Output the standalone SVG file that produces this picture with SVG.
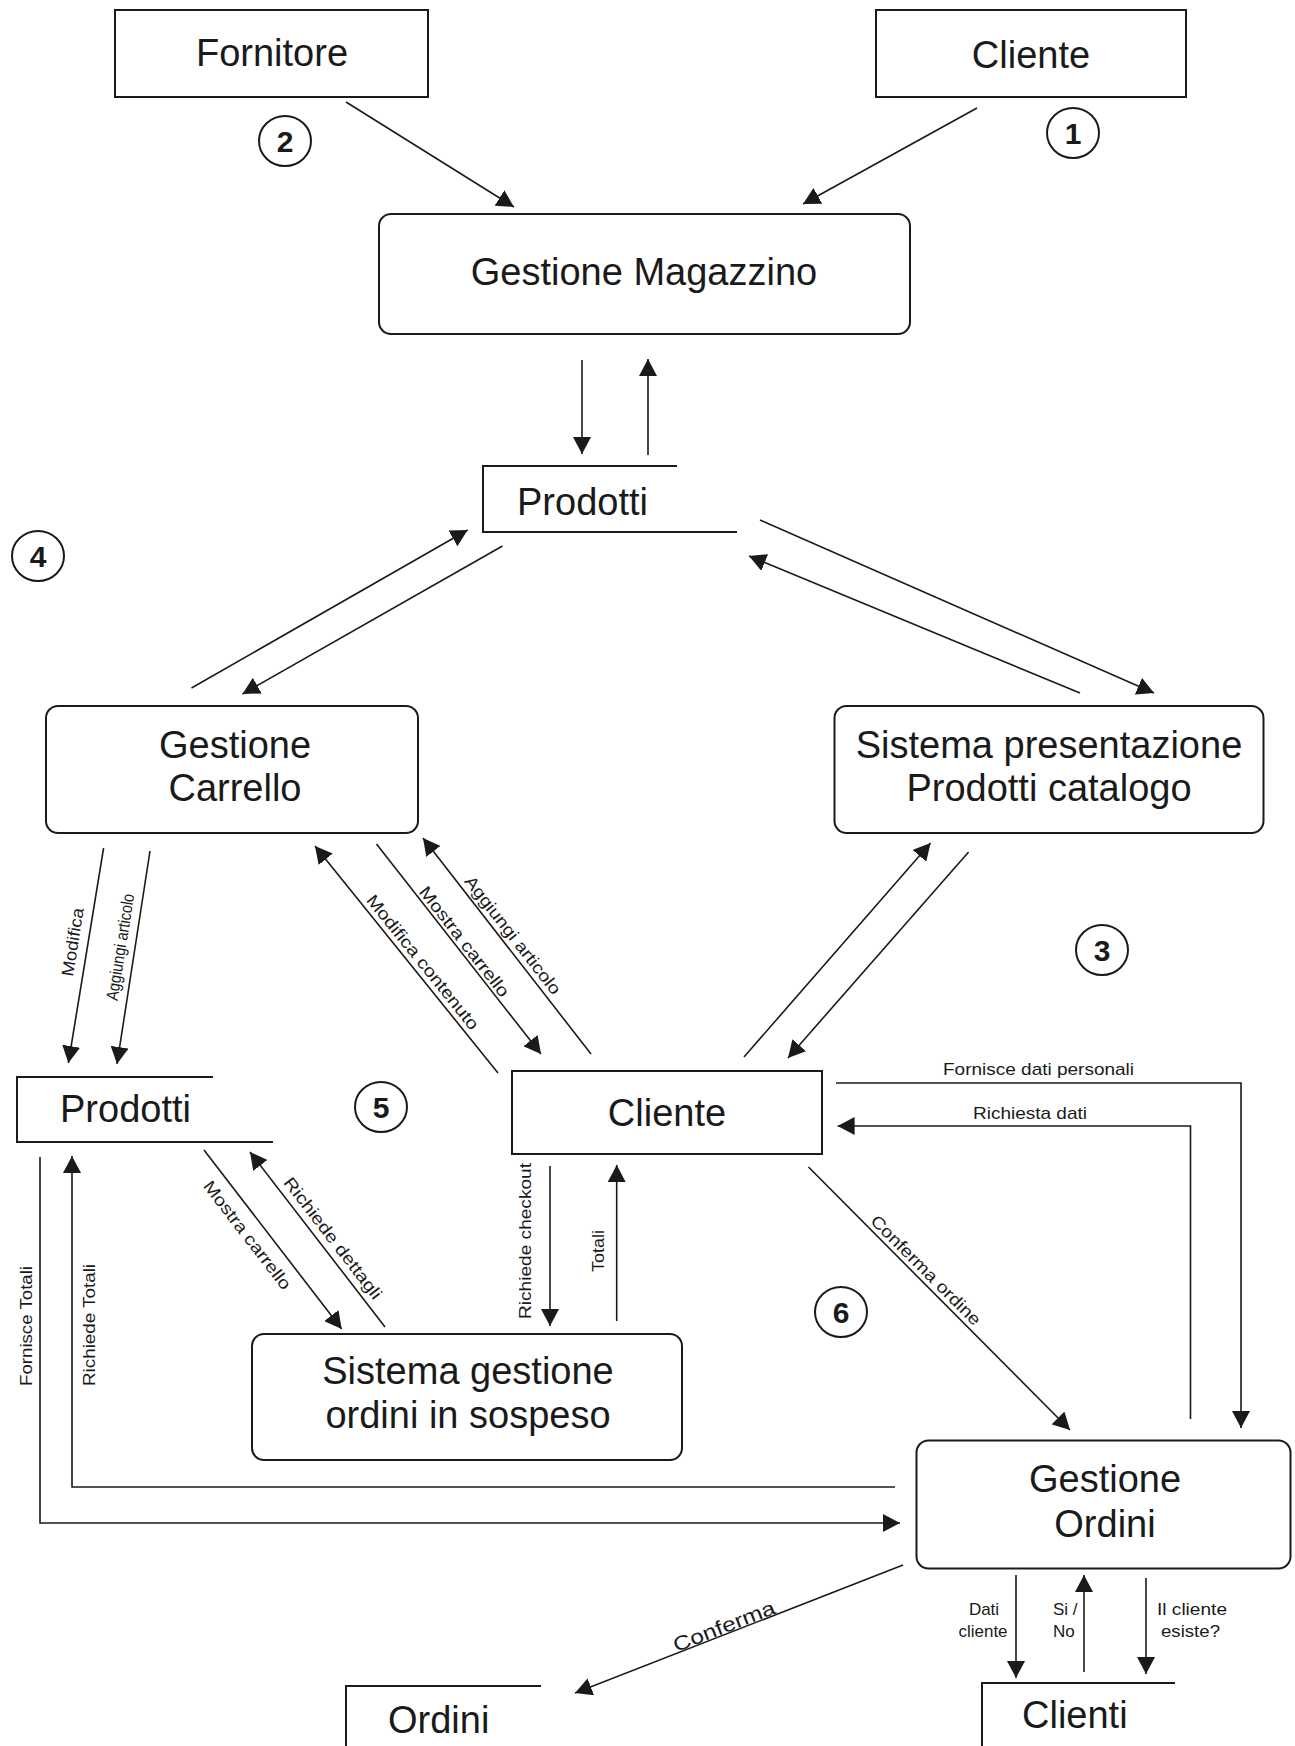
<svg xmlns="http://www.w3.org/2000/svg" width="1295" height="1746" viewBox="0 0 1295 1746">
<style>
.box{fill:#fff;stroke:#1a1a1a;stroke-width:2}
.store{fill:none;stroke:#1a1a1a;stroke-width:2}
.big{font-family:"Liberation Sans",Arial,sans-serif;font-size:38px;fill:#1a1a1a}
.lbl{font-family:"Liberation Sans",Arial,sans-serif;font-size:17px;fill:#1a1a1a}
.num{font-family:"Liberation Sans",Arial,sans-serif;font-size:30px;font-weight:bold;fill:#1a1a1a}
.mid{text-anchor:middle}
.circ{fill:none;stroke:#1a1a1a;stroke-width:2}
#connectors path{fill:none;stroke:#1a1a1a;stroke-width:1.6}
</style>
<defs>
<marker id="ah" markerUnits="userSpaceOnUse" markerWidth="18" markerHeight="18" refX="17" refY="9" orient="auto">
<path d="M0,0 L17,9 L0,18 z" fill="#1a1a1a"/>
</marker>
</defs>
<rect width="1295" height="1746" fill="#fff"/>

<g id="connectors">
<path d="M346,102 L514,207" marker-end="url(#ah)"/>
<path d="M977,108 L803,204" marker-end="url(#ah)"/>
<path d="M582,360 L582,454" marker-end="url(#ah)"/>
<path d="M648,455 L648,359" marker-end="url(#ah)"/>
<path d="M191.5,688 L467.7,530" marker-end="url(#ah)"/>
<path d="M502.5,546 L242.5,694" marker-end="url(#ah)"/>
<path d="M760,520 L1154,693" marker-end="url(#ah)"/>
<path d="M1080,693 L749,556" marker-end="url(#ah)"/>
<path d="M103.6,848 L68.4,1063" marker-end="url(#ah)"/>
<path d="M150,851 L117,1064" marker-end="url(#ah)"/>
<path d="M498,1073 L315,846" marker-end="url(#ah)"/>
<path d="M376.5,844 L541,1054" marker-end="url(#ah)"/>
<path d="M591,1054 L423,838" marker-end="url(#ah)"/>
<path d="M744,1057 L930.6,843" marker-end="url(#ah)"/>
<path d="M968.6,852 L788,1058" marker-end="url(#ah)"/>
<path d="M836,1083 L1241,1083 L1241,1428" marker-end="url(#ah)"/>
<path d="M1190.5,1419 L1190.5,1126 L837.6,1126" marker-end="url(#ah)"/>
<path d="M808.5,1167 L1070,1430" marker-end="url(#ah)"/>
<path d="M550,1166 L550,1326" marker-end="url(#ah)"/>
<path d="M616.7,1321 L616.7,1165" marker-end="url(#ah)"/>
<path d="M204,1150 L341.7,1329" marker-end="url(#ah)"/>
<path d="M385,1327 L250,1152" marker-end="url(#ah)"/>
<path d="M40,1157 L40,1523 L900,1523" marker-end="url(#ah)"/>
<path d="M895,1487 L72,1487 L72,1156" marker-end="url(#ah)"/>
<path d="M903,1565 L575,1693" marker-end="url(#ah)"/>
<path d="M1016,1575 L1016,1678" marker-end="url(#ah)"/>
<path d="M1084,1672 L1084,1575" marker-end="url(#ah)"/>
<path d="M1146,1578 L1146,1674" marker-end="url(#ah)"/>

<g id="connector-labels" class="lbl">
<text transform="translate(72.5,942) rotate(-81)" class="mid" y="6" textLength="69" lengthAdjust="spacingAndGlyphs">Modifica</text>
<text transform="translate(120,947) rotate(-81)" class="mid" y="6" textLength="108" lengthAdjust="spacingAndGlyphs">Aggiungi articolo</text>
<text transform="translate(423,962) rotate(51.1)" class="mid" y="6" textLength="168" lengthAdjust="spacingAndGlyphs">Modifica contenuto</text>
<text transform="translate(464.5,941.5) rotate(52)" class="mid" y="6" textLength="135" lengthAdjust="spacingAndGlyphs">Mostra carrello</text>
<text transform="translate(513,935) rotate(52)" class="mid" y="6" textLength="145" lengthAdjust="spacingAndGlyphs">Aggiungi articolo</text>
<text x="943" y="1075" textLength="191" lengthAdjust="spacingAndGlyphs">Fornisce dati personali</text>
<text x="973" y="1119" textLength="114" lengthAdjust="spacingAndGlyphs">Richiesta dati</text>
<text transform="translate(926,1270) rotate(45)" class="mid" y="6" textLength="148" lengthAdjust="spacingAndGlyphs">Conferma ordine</text>
<text transform="translate(525,1241) rotate(-90)" class="mid" y="6" textLength="156" lengthAdjust="spacingAndGlyphs">Richiede checkout</text>
<text transform="translate(597.5,1251) rotate(-90)" class="mid" y="6" textLength="42" lengthAdjust="spacingAndGlyphs">Totali</text>
<text transform="translate(247.5,1235) rotate(52.4)" class="mid" y="6" textLength="132" lengthAdjust="spacingAndGlyphs">Mostra carrello</text>
<text transform="translate(333,1238) rotate(52.4)" class="mid" y="6" textLength="149" lengthAdjust="spacingAndGlyphs">Richiede dettagli</text>
<text transform="translate(26,1326) rotate(-90)" class="mid" y="6" textLength="120" lengthAdjust="spacingAndGlyphs">Fornisce Totali</text>
<text transform="translate(89,1325) rotate(-90)" class="mid" y="6" textLength="122" lengthAdjust="spacingAndGlyphs">Richiede Totali</text>
<text transform="translate(724,1626) rotate(-21.3)" class="mid" y="7" style="font-size:20px" textLength="108" lengthAdjust="spacingAndGlyphs">Conferma</text>
<text x="984" y="1615" class="mid">Dati</text>
<text x="983" y="1637" class="mid">cliente</text>
<text x="1053" y="1615">Si /</text>
<text x="1053" y="1637">No</text>
<text x="1157" y="1615" textLength="70" lengthAdjust="spacingAndGlyphs">Il cliente</text>
<text x="1161" y="1637" textLength="59" lengthAdjust="spacingAndGlyphs">esiste?</text>
</g>
</g>

<g id="fornitore"><rect class="box" x="115" y="10" width="313" height="87"/><text class="big mid" x="272" y="66">Fornitore</text></g>
<g id="cliente-top"><rect class="box" x="876" y="10" width="310" height="87"/><text class="big mid" x="1031" y="68">Cliente</text></g>
<g id="gestione-magazzino"><rect class="box" x="379" y="214" width="531" height="120" rx="12"/><text class="big mid" x="644" y="285">Gestione Magazzino</text></g>
<g id="prodotti-top"><path class="store" d="M677,466 L483,466 L483,532 L737,532"/><text class="big" x="517" y="515">Prodotti</text></g>
<g id="gestione-carrello"><rect class="box" x="46" y="706" width="372" height="127" rx="12"/><text class="big mid" x="235" y="758">Gestione</text><text class="big mid" x="235" y="801">Carrello</text></g>
<g id="sistema-presentazione"><rect class="box" x="834.5" y="706" width="429" height="127" rx="12"/><text class="big mid" x="1049" y="758">Sistema presentazione</text><text class="big mid" x="1049" y="801">Prodotti catalogo</text></g>
<g id="prodotti-left"><path class="store" d="M213,1077 L17,1077 L17,1142 L273,1142"/><text class="big" x="60" y="1122">Prodotti</text></g>
<g id="cliente-mid"><rect class="box" x="512" y="1071" width="310" height="83"/><text class="big mid" x="667" y="1126">Cliente</text></g>
<g id="sistema-gestione"><rect class="box" x="252" y="1334" width="430" height="126" rx="12"/><text class="big mid" x="468" y="1384">Sistema gestione</text><text class="big mid" x="468" y="1428">ordini in sospeso</text></g>
<g id="gestione-ordini"><rect class="box" x="916.5" y="1440.5" width="374" height="128" rx="12"/><text class="big mid" x="1105" y="1492">Gestione</text><text class="big mid" x="1105" y="1537">Ordini</text></g>
<g id="ordini"><path class="store" d="M541,1686 L346,1686 L346,1746"/><text class="big" x="388" y="1733">Ordini</text></g>
<g id="clienti"><path class="store" d="M1175,1683 L982,1683 L982,1746"/><text class="big" x="1022" y="1728">Clienti</text></g>

<g id="step-1"><ellipse class="circ" cx="1073" cy="133" rx="26" ry="25"/><text class="num mid" x="1073" y="144">1</text></g>
<g id="step-2"><ellipse class="circ" cx="285" cy="141" rx="26" ry="25"/><text class="num mid" x="285" y="152">2</text></g>
<g id="step-3"><ellipse class="circ" cx="1102" cy="950" rx="26" ry="25"/><text class="num mid" x="1102" y="961">3</text></g>
<g id="step-4"><ellipse class="circ" cx="38" cy="556" rx="26" ry="25"/><text class="num mid" x="38" y="567">4</text></g>
<g id="step-5"><ellipse class="circ" cx="381" cy="1107" rx="26" ry="25"/><text class="num mid" x="381" y="1118">5</text></g>
<g id="step-6"><ellipse class="circ" cx="841" cy="1312" rx="26" ry="25"/><text class="num mid" x="841" y="1323">6</text></g>
</svg>
